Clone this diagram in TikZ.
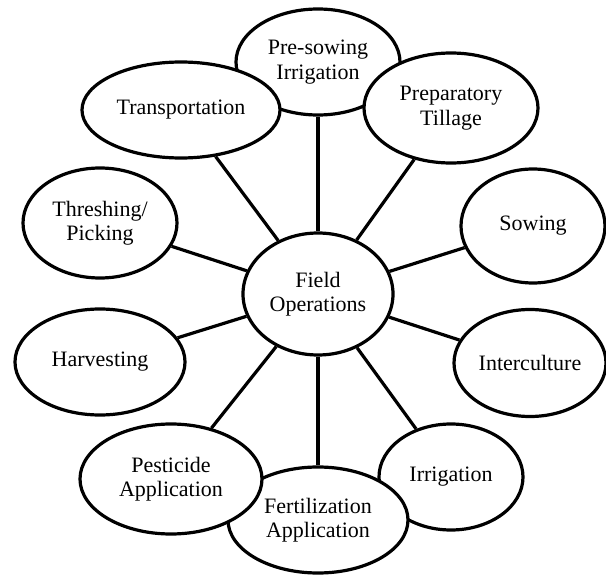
\documentclass[tikz,border=0pt]{standalone}
\usepackage{fontspec}
\setmainfont{Liberation Serif}
\usetikzlibrary{shapes.geometric}
\begin{document}
\begin{tikzpicture}[x=1pt,y=-1pt,
  op/.style={ellipse, draw=black, fill=white, line width=3.2pt, inner sep=0pt,
    align=center, font=\fontsize{22}{24.5}\selectfont},
  spoke/.style={draw=black, line width=3.2pt}]
\useasboundingbox (0,0) rectangle (606,575);
\node[op, minimum width=164pt, minimum height=106pt] (pre) at (318,62) {Pre-sowing\\Irrigation};
\node[op, minimum width=198pt, minimum height=96pt] (tra) at (181,110) {Transportation};
\node[op, minimum width=174pt, minimum height=110pt] (prep) at (451,108) {Preparatory\\Tillage};
\node[op, minimum width=154pt, minimum height=110pt] (thr) at (100,223) {Threshing/\\Picking};
\node[op, minimum width=144pt, minimum height=114pt] (sow) at (533,226) {Sowing};
\node[op, minimum width=170pt, minimum height=106pt] (har) at (100,362) {Harvesting};
\node[op, minimum width=152pt, minimum height=107pt] (int) at (530,363) {Interculture};
\node[op, minimum width=144pt, minimum height=106pt] (irr) at (451,477) {Irrigation};
\node[op, minimum width=180pt, minimum height=106pt] (fer) at (318,520) {Fertilization\\Application};
\node[op, minimum width=182pt, minimum height=110pt] (pes) at (171,479) {Pesticide\\Application};
\node[op, minimum width=150pt, minimum height=122pt] (c) at (318,294) {Field\\Operations};
\foreach \t in {pre,tra,prep,thr,sow,har,int,irr,fer,pes}
  \draw[spoke] (c) -- (\t);
\end{tikzpicture}
\end{document}
